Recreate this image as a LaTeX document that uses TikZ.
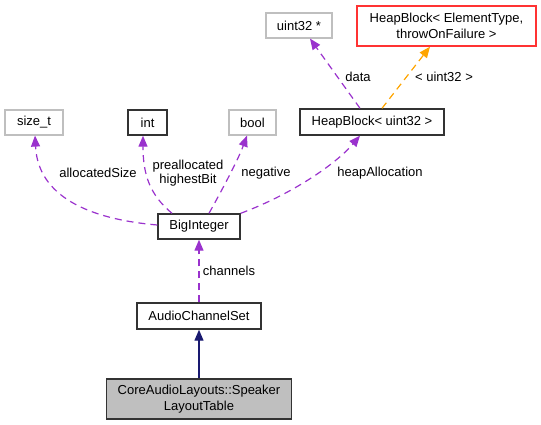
\documentclass[tikz,border=0pt]{standalone}
\usepackage{fontspec}
\setmainfont{Liberation Sans}
\usetikzlibrary{arrows.meta,calc}
\definecolor{edgepurple}{HTML}{9A32CD}
\definecolor{edgeorange}{HTML}{FFA500}
\definecolor{edgeblue}{HTML}{191970}
\definecolor{boxgray}{HTML}{BFBFBF}
\begin{document}
\begin{tikzpicture}[x=1pt,y=-1pt,
  every node/.style={font=\fontsize{13}{15.5}\selectfont, inner sep=0pt, align=center},
  cls/.style={draw=black!80, line width=1.4pt, rectangle},
  ext/.style={draw=boxgray, line width=1.2pt, rectangle},
  tmpl/.style={draw=red!80, line width=1.4pt, rectangle},
  cur/.style={draw=black!80, fill=boxgray, line width=1.4pt, rectangle},
  usage/.style={draw=edgepurple, line width=1.2pt, dash pattern=on 7pt off 5pt,
    -{Triangle[length=11pt,width=9pt,fill=edgepurple]}},
  inst/.style={draw=edgeorange, line width=1.2pt, dash pattern=on 7pt off 5pt,
    -{Triangle[length=11pt,width=9pt,fill=edgeorange]}},
  inherit/.style={draw=edgeblue, line width=1.2pt,
    -{Triangle[length=11pt,width=9pt,fill=edgeblue]}},
  lbl/.style={font=\fontsize{13}{14}\selectfont}
]
\useasboundingbox (0,0) rectangle (541,425);

\node[ext, minimum width=66pt, minimum height=25pt] (uptr) at (299,25.5) {uint32 *};
\node[tmpl, minimum width=179pt, minimum height=40pt] (hbe) at (446.5,26) {HeapBlock\textless{} ElementType,\\throwOnFailure \textgreater};
\node[ext, minimum width=58pt, minimum height=25pt] (sizet) at (34,122.5) {size\_t};
\node[cls, minimum width=39pt, minimum height=25pt] (int) at (147.5,122.5) {int};
\node[ext, minimum width=47pt, minimum height=25pt] (bool) at (252.5,122.5) {bool};
\node[cls, minimum width=144pt, minimum height=26pt] (hbu) at (372,122) {HeapBlock\textless{} uint32 \textgreater};
\node[cls, minimum width=82pt, minimum height=25pt] (big) at (199,226.5) {BigInteger};
\node[cls, minimum width=124pt, minimum height=26pt] (acs) at (199,316) {AudioChannelSet};
\node[cur, minimum width=185pt, minimum height=40pt] (cal) at (199,399) {CoreAudioLayouts::Speaker\\LayoutTable};

% edges
\draw[usage] ($(big.west)+(0,-1.5)$) .. controls (88,219) and (38,196) .. ($(sizet.south)+(1,0)$);
\draw[usage] ($(big.north)+(-27,0)$) .. controls (150,195) and (143,175) .. ($(int.south)+(-4.5,0)$);
\draw[usage] ($(big.north)+(10,0)$) .. controls (222,190) and (238,160) .. ($(bool.south)+(-5.5,0)$);
\draw[usage] ($(big.north east)+(0,0)$) .. controls (290,195) and (335,165) .. ($(hbu.south)+(-12,0)$);
\draw[usage] ($(hbu.north)+(-12,0)$) -- ($(uptr.south)+(11,0)$);
\draw[inst] ($(hbu.north)+(10,0)$) -- ($(hbe.south)+(-16.5,0)$);
\draw[usage] (acs.north) -- (big.south);
\draw[inherit] (cal.north) -- (acs.south);

% labels
\node[lbl] (l1) at (98,173) {allocatedSize};
\node[lbl] (l2) at (188,173.5) {preallocated\\highestBit};
\node[lbl] (l3) at (266,173) {negative};
\node[lbl] (l4) at (380,173) {heapAllocation};
\node[lbl] (l5) at (358,77) {data};
\node[lbl] (l6) at (444,77) {\textless{} uint32 \textgreater};
\node[lbl] (l7) at (229,271) {channels};
\end{tikzpicture}
\end{document}
